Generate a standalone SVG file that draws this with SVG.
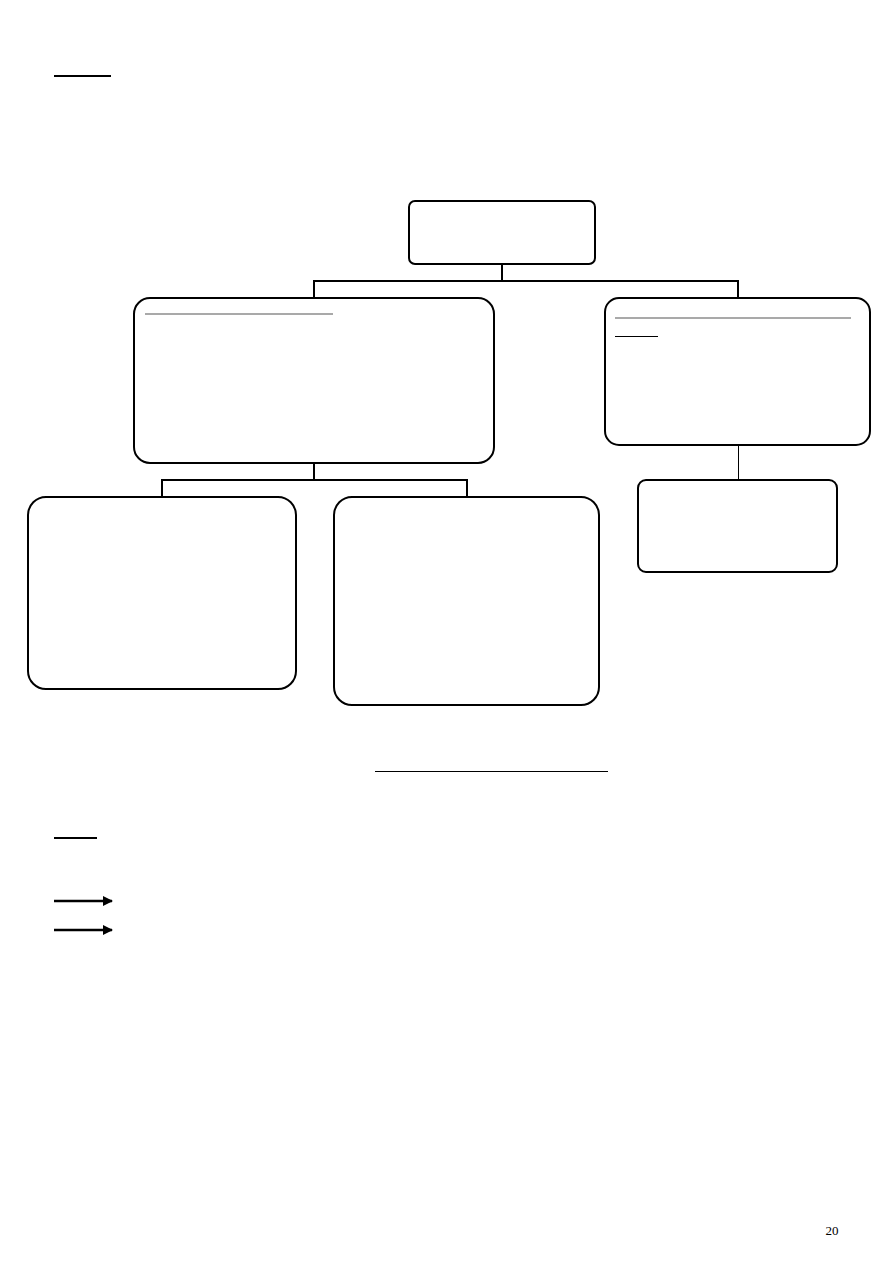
<svg xmlns="http://www.w3.org/2000/svg" width="893" height="1263" viewBox="0 0 893 1263">
<style>
.box{fill:#fff;stroke:#000;stroke-width:2}
.conn{fill:none;stroke:#000;stroke-width:2}
.thin{fill:none;stroke:#000;stroke-width:1}
.gray{stroke:#8c8c8c;stroke-width:1.5}
.rule{stroke:#000;stroke-width:2}
.arr{stroke:#000;stroke-width:2.5}
</style>
<defs>
<marker id="ah" viewBox="0 0 10 10" refX="9" refY="5" markerWidth="4" markerHeight="4" orient="auto" markerUnits="strokeWidth">
<path d="M0,0 L10,5 L0,10 z" fill="#000"/>
</marker>
</defs>
<rect width="893" height="1263" fill="#fff"/>
<line class="rule" x1="54" y1="76" x2="111" y2="76"/>
<g id="connectors">
<polyline class="conn" points="502,264 502,281"/>
<polyline class="conn" points="314,298 314,281 738,281 738,298"/>
<polyline class="conn" points="314,463 314,480"/>
<polyline class="conn" points="162,497 162,480 467,480 467,497"/>
<line class="thin" x1="738.5" y1="445" x2="738.5" y2="480"/>
</g>
<g id="n_top"><rect class="box" x="409" y="201" width="186" height="63" rx="6"/></g>
<g id="n_left"><rect class="box" x="134" y="298" width="360" height="165" rx="16"/>
<line class="gray" x1="145" y1="314" x2="333" y2="314"/></g>
<g id="n_right"><rect class="box" x="605" y="298" width="265" height="147" rx="14"/>
<line class="gray" x1="615" y1="318" x2="851" y2="318"/>
<line class="thin" x1="615" y1="336.5" x2="658" y2="336.5"/></g>
<g id="n_right_child"><rect class="box" x="638" y="480" width="199" height="92" rx="8"/></g>
<g id="n_bl"><rect class="box" x="28" y="497" width="268" height="192" rx="18"/></g>
<g id="n_bm"><rect class="box" x="334" y="497" width="265" height="208" rx="18"/></g>
<line class="thin" x1="375" y1="771.5" x2="608" y2="771.5"/>
<line class="rule" x1="54" y1="838" x2="97" y2="838"/>
<line class="arr" x1="54" y1="901" x2="112" y2="901" marker-end="url(#ah)"/>
<line class="arr" x1="54" y1="930" x2="112" y2="930" marker-end="url(#ah)"/>
<text x="832" y="1235" font-family="Liberation Serif, serif" font-size="13" text-anchor="middle">20</text>
</svg>
